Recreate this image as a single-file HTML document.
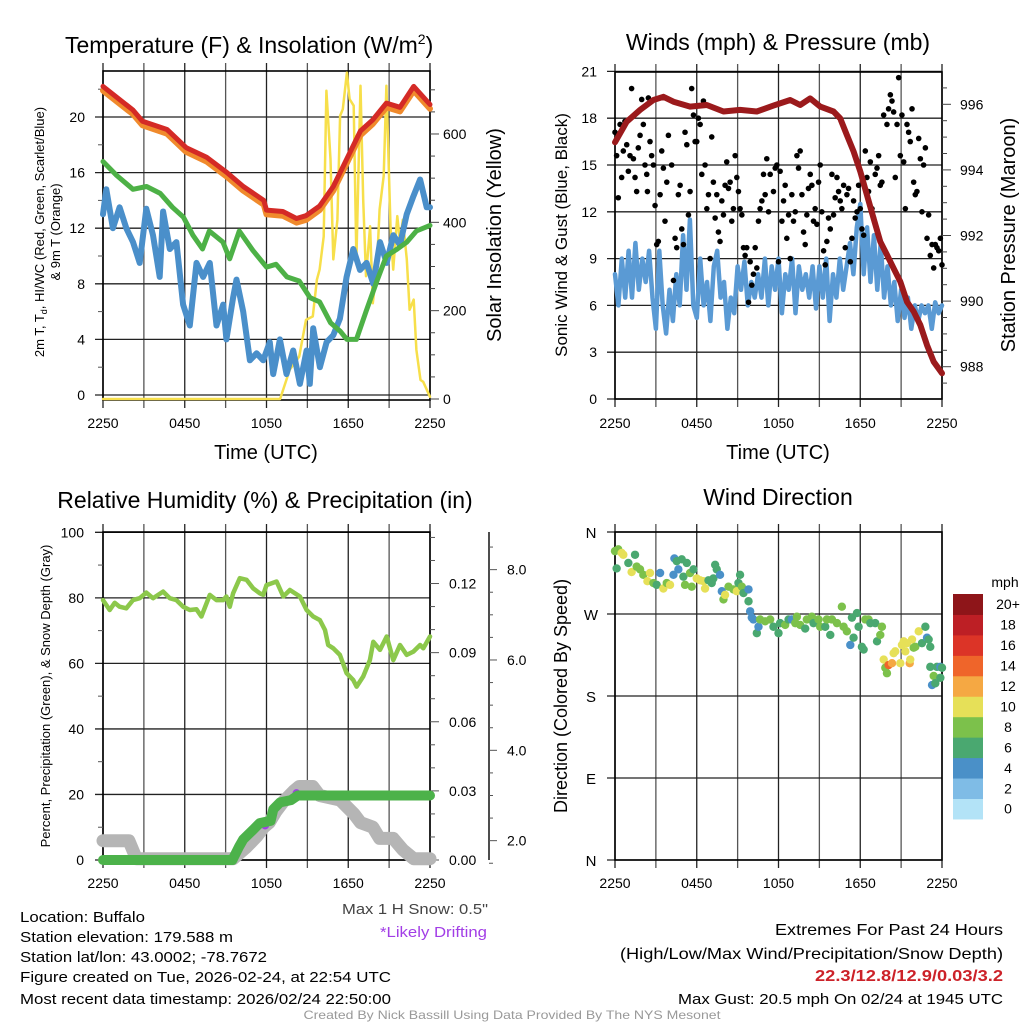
<!DOCTYPE html>
<html><head><meta charset="utf-8">
<style>
html,body{margin:0;padding:0;background:#fff;}
svg{display:block;font-family:"Liberation Sans",Arial,sans-serif;}
</style></head>
<body>
<svg id="fig" width="1024" height="1024" viewBox="0 0 1024 1024" xmlns="http://www.w3.org/2000/svg"></svg>
<script>
// ---------- DATA ----------
const timeLabels = ["2250","0450","1050","1650","2250"];
// Temperature panel
const tempTicks = [0,4,8,12,16,20];
const insolTicks = [0,200,400,600];
const redT = [0,2.2,2.9,4.7,6.1,7.6,9.1,10.3,11.8,12,13.2,14.2,14.9,15.9,16.9,17.9,18.9,19.8,20.8,21.8,22.8,24];
const redV = [22.2,20.5,19.7,19.1,17.8,17.1,16.0,15.0,14.0,13.3,13.2,12.7,12.9,13.6,15.0,17.0,19.0,19.8,21.0,20.7,22.2,20.9];
const greenT = [0,1.0,2.2,3.2,4.2,5.1,5.9,6.6,7.3,7.8,8.8,9.3,10.0,11.0,12.0,12.7,13.5,14.4,15.2,15.9,16.7,17.4,17.9,18.6,19.3,20.1,20.8,21.6,22.3,23.0,24];
const greenV = [16.8,15.8,14.8,15.0,14.5,13.5,12.8,11.5,10.5,11.8,11.0,9.8,11.8,10.4,9.2,9.4,8.5,8.2,7.0,6.7,5.2,4.6,4.0,4.0,6.0,8.2,10.0,10.5,11.0,11.8,12.2];
const blueT = [0,0.24,0.73,1.22,1.71,2.2,2.69,3.18,3.67,4.16,4.41,4.9,5.39,5.88,6.37,6.86,7.35,7.84,8.33,8.82,9.06,9.55,9.8,10.29,10.78,11.27,11.76,12.24,12.49,12.98,13.47,13.96,14.45,14.94,15.18,15.43,15.92,16.41,16.9,17.39,17.88,18.37,18.86,19.35,19.84,20.33,20.82,21.31,21.8,22.29,22.78,23.27,23.76,24];
const blueV = [13,14.8,12.0,13.5,12.0,11.0,9.5,13.4,11.5,8.5,13.2,10.5,11.0,6.5,5.0,9.5,8.5,9.5,5.0,6.5,4.0,7.0,8.3,6.0,2.5,3.0,2.5,3.8,1.5,4.0,1.5,3.2,0.8,3.2,0.8,4.8,2.0,3.8,4.3,5.5,8.5,10.5,9.0,9.5,8.0,11.0,9.5,11.5,10.8,13.0,14.3,15.5,13.5,13.5];
const solarT = [0,13.0,13.7,14.4,14.9,15.4,15.7,15.9,16.2,16.4,16.7,16.9,17.2,17.4,17.6,17.9,18.1,18.4,18.6,18.9,19.1,19.3,19.6,19.8,20.1,20.3,20.6,20.8,21.1,21.3,21.6,21.8,22.0,22.3,22.5,22.8,23.0,23.3,23.5,24];
const solarV = [0,0,66,96,179,187,270,293,368,698,543,316,406,641,656,739,679,664,316,709,451,278,391,217,300,429,505,709,391,293,414,354,406,316,202,225,111,43,39,5];
// Winds panel
const windTicks = [0,3,6,9,12,15,18,21];
const presTicks = [988,990,992,994,996];
const sustained = [8,6,9,6.5,9.5,6.5,10,7,9,7.5,9.5,6.5,4.5,9.5,6,4.2,7,5,8,6,10.5,7,11.5,6,5.2,9,6,7.5,5,8.5,9.5,6.5,7.5,4.5,6.5,5.5,8.5,7,8.8,6,7.5,6.5,8,6.5,9,6,8.5,7,9,5.5,8,7,9,5.5,8.5,7,8,6.5,8.5,5.8,8.5,6.5,9,5,8,6.5,9,7,8.5,10,8,11,12.5,8,11,7.5,10.5,7,10,6.5,8.5,6,7.5,5,7,5.2,6.5,4.5,6,5,6,5.5,6,4.5,6.2,5.5,6];
const sustainedStep = 0.25;
const gustT = [0,0.12,0.24,0.37,0.49,0.61,0.73,0.86,0.98,1.1,1.22,1.35,1.47,1.59,1.71,1.84,1.96,2.08,2.2,2.33,2.38,2.45,2.57,2.69,2.82,2.94,3.06,3.18,3.31,3.43,3.55,3.67,3.8,3.92,4.16,4.29,4.41,4.53,4.65,4.78,4.9,5.02,5.14,5.27,5.39,5.51,5.63,5.76,5.88,6.0,6.12,6.25,6.37,6.49,6.61,6.74,6.86,6.98,7.1,7.22,7.35,7.47,7.59,7.71,7.84,7.96,8.08,8.2,8.33,8.45,8.57,8.69,8.82,8.94,9.06,9.18,9.31,9.43,9.55,9.67,9.8,9.92,10.04,10.16,10.29,10.41,10.53,10.65,10.78,10.9,11.02,11.14,11.27,11.39,11.63,11.76,11.88,12.0,12.12,12.25,12.37,12.49,12.61,12.74,12.86,12.98,13.1,13.23,13.35,13.47,13.59,13.72,13.84,13.96,14.08,14.2,14.33,14.45,14.57,14.69,14.82,14.94,15.06,15.18,15.31,15.43,15.55,15.67,15.8,15.92,16.04,16.16,16.29,16.41,16.53,16.65,16.78,16.9,17.02,17.14,17.27,17.39,17.51,17.63,17.76,17.88,18.0,18.12,18.25,18.37,18.49,18.61,18.74,18.86,18.98,19.1,19.23,19.35,19.47,19.59,19.72,19.96,20.08,20.21,20.33,20.45,20.57,20.7,20.82,20.94,21.06,21.19,21.31,21.43,21.55,21.67,21.8,21.92,22.04,22.16,22.29,22.41,22.53,22.65,22.78,22.9,23.02,23.14,23.27,23.39,23.51,23.63,23.76,23.88,24];
const gustV = [17.1,15.6,12.9,17.6,14.2,15.9,17.8,16.3,14.6,15.6,19.9,15.4,14.2,13.3,16.1,16.9,19.2,17.6,15.0,14.4,13.3,19.3,16.5,15.6,15.0,12.4,9.9,10.1,13.1,15.9,14.8,11.4,13.9,16.9,15.0,7.6,10.3,9.7,13.1,13.7,10.9,9.9,17.1,16.3,11.8,13.3,19.9,18.2,16.5,16.5,18.0,17.6,14.4,19.1,15.0,12.2,13.1,9.0,16.8,13.9,11.6,13.1,10.7,10.1,12.7,11.8,13.7,15.2,13.5,13.9,11.4,12.2,15.6,14.2,13.3,12.2,11.8,9.7,9.2,9.7,6.2,8.8,7.3,8.0,9.7,8.4,11.4,12.2,12.7,14.4,13.1,15.4,12.0,14.4,13.3,14.8,15.0,8.8,14.6,11.4,12.7,13.7,10.3,11.8,9.0,13.1,11.4,12.0,15.6,14.8,15.9,13.1,10.7,9.9,11.8,13.5,14.4,13.7,11.4,12.2,11.2,13.9,15.0,12.0,9.5,8.6,10.1,11.6,10.9,14.4,11.8,12.9,14.2,13.3,12.7,12.2,13.7,9.7,13.1,13.5,8.8,10.3,12.7,11.6,12.0,13.7,12.2,10.9,10.5,15.9,14.2,13.3,15.2,12.2,11.6,14.4,14.8,15.6,13.7,13.9,18.2,17.6,18.6,19.5,19.1,18.4,14.2,17.6,20.6,15.6,18.2,15.2,12.2,17.6,17.1,16.5,18.6,13.9,13.1,13.3,16.7,15.4,12.0,15.0,16.1,10.3,11.8,9.2,9.9,8.4,9.9,9.7,9.5,10.3,8.6];
const presT = [0,0.86,1.84,2.82,3.55,4.29,5.51,6.74,7.96,9.18,10.41,11.63,12.86,13.59,14.33,15.06,16.04,16.53,17.02,17.51,18.0,18.49,18.98,19.47,19.96,20.45,20.94,21.43,21.92,22.41,22.9,23.39,24];
const presV = [994.84,995.47,995.83,996.13,996.23,996.08,995.93,995.98,995.78,995.83,995.78,995.96,996.13,995.98,996.18,995.93,995.78,995.57,995.06,994.56,993.95,993.24,992.52,991.81,991.41,991.0,990.59,989.98,989.68,989.27,988.66,988.15,987.8];
// RH panel
const rhTicks = [0,20,40,60,80,100];
const precipTicks = ["0.00","0.03","0.06","0.09","0.12"];
const snowTicks = ["2.0","4.0","6.0","8.0"];
const rhT = [0,0.49,0.86,1.22,1.71,2.2,2.69,3.18,3.67,4.41,4.9,5.39,5.88,6.37,6.86,7.22,7.84,8.33,8.82,9.06,9.31,9.55,10.04,10.53,11.02,11.51,11.76,12.0,12.74,13.23,13.72,14.45,14.94,15.43,15.92,16.29,16.53,16.9,17.39,17.88,18.37,18.61,19.1,19.59,19.84,20.33,20.82,21.31,21.8,22.29,22.78,23.27,23.51,24];
const rhV = [79.3,76.3,78.5,77.3,76.8,79.3,79.9,81.6,79.9,81.9,79.9,79.3,77.3,76.3,76.5,74.3,80.9,79.3,79.3,80.4,77.3,81.4,86.0,85.5,82.9,81.4,80.9,83.9,85.0,80.4,82.4,80.4,76.3,74.3,73.2,70.2,65.6,64.6,62.6,57.0,54.9,52.9,56.0,61.0,66.6,64.1,68.2,61.0,65.6,62.6,63.6,65.6,64.6,68.2];
const precipT = [0,9.5,10.0,10.3,11.0,11.5,12.3,12.5,13.0,13.8,14.3,24];
const precipV = [0,0,0.006,0.009,0.013,0.016,0.017,0.022,0.025,0.026,0.028,0.028];
const snowT = [0,1.9,2.45,9.55,10.5,11.3,11.8,12.2,12.7,13.2,14.0,14.4,15.4,15.9,17.4,18.4,18.9,19.8,20.3,21.3,22.0,22.8,24];
const snowV = [2.0,2.0,1.6,1.6,1.85,2.1,2.3,2.4,2.65,2.85,3.1,3.2,3.2,3.0,2.9,2.6,2.4,2.3,2.05,2.05,1.8,1.6,1.6];
const driftT = [11.9,14.2];
const driftV = [0.015,0.029];
// Wind direction panel
const dirTicks = ["N","E","S","W","N"];
const dirT = [0,0.24,0.49,0.12,0.61,0.98,1.47,1.22,1.59,1.84,2.08,2.38,2.57,2.82,3.06,3.31,3.55,3.8,4.04,4.29,4.36,4.53,4.65,4.9,5.02,5.14,5.27,5.51,5.63,5.76,6.0,6.25,6.49,6.61,6.86,7.1,7.22,7.35,7.47,7.71,7.84,7.96,8.08,8.33,8.69,8.94,9.06,9.18,9.31,9.43,9.8,9.8,9.92,10.04,10.16,10.41,10.53,10.65,11.02,11.39,11.63,12.0,12.12,12.49,12.74,12.98,13.23,13.35,13.59,13.96,14.08,14.45,14.57,14.94,15.06,15.43,15.55,15.8,15.92,16.29,16.65,16.78,17.02,17.27,17.39,17.51,17.76,17.88,18.12,18.25,18.37,18.61,18.74,19.1,19.23,19.47,19.59,19.72,19.84,19.96,20.08,20.33,20.45,20.57,20.94,21.06,21.19,21.31,21.43,21.63,21.67,21.8,21.92,22.04,22.29,22.53,22.78,22.9,23.02,23.14,23.14,23.27,23.39,23.51,23.63,23.88,23.88,24];
const dirV = [339,341,337,320,335,326,335,316,322,319,313,306,315,304,302,315,298,304,302,313,331,328,319,330,311,302,326,315,300,319,309,307,306,298,307,304,309,324,319,313,295,286,291,300,297,295,304,313,300,293,297,284,273,266,264,249,256,264,262,264,256,249,260,258,264,264,260,267,258,254,264,267,260,264,256,256,264,247,264,260,278,256,251,236,266,244,271,256,234,231,264,264,260,260,240,247,256,220,211,205,214,216,227,229,216,236,240,229,238,216,220,242,233,234,251,238,256,244,242,234,212,192,202,194,212,212,200,211];
const dirS = [8,8,10,6,10,6,6,10,8,8,8,10,10,8,6,4,10,8,10,4,4,6,4,6,6,8,6,8,8,6,10,10,10,10,6,6,6,6,6,4,4,8,10,8,8,10,6,6,8,6,4,6,4,4,4,6,4,8,8,8,6,6,6,8,6,4,8,8,8,6,8,8,6,8,8,6,8,6,8,8,8,8,8,4,6,6,6,6,6,6,8,8,6,6,6,8,8,10,8,8,14,12,10,10,10,10,10,10,10,12,10,10,8,8,10,6,6,4,6,6,6,4,8,6,6,4,6];
const speedBins = ["0","2","4","6","8","10","12","14","16","18","20+"];
const speedColors = ["#b3e3f7","#7fbce6","#4a90c8","#4aa870","#7cc14b","#e6e058","#f5a843","#ef652a","#dc3427","#bd1f25","#8e1519"];

// ---------- DRAW ----------
const NS = "http://www.w3.org/2000/svg";
const svg = document.getElementById("fig");
function mk(tag, attrs, parent){
  const e = document.createElementNS(NS, tag);
  for (const k in attrs) e.setAttribute(k, attrs[k]);
  (parent||svg).appendChild(e);
  return e;
}
function txt(s, x, y, size, anchor, parent, extra){
  const e = mk("text", Object.assign({x:x, y:y, "font-size":size, "text-anchor":anchor||"start", fill:"#000"}, extra||{}), parent);
  e.textContent = s;
  return e;
}
function polyline(ts, vs, sx, sy, color, w, parent){
  let d = "";
  for (let i=0;i<ts.length;i++) d += (i?"L":"M") + sx(ts[i]).toFixed(1) + "," + sy(vs[i]).toFixed(1);
  return mk("path", {d:d, fill:"none", stroke:color, "stroke-width":w, "stroke-linejoin":"round", "stroke-linecap":"round"}, parent);
}
function grid(g, x0, x1, top, bot, hys){
  for (let i=0;i<=8;i++){
    const x = x0 + i*(x1-x0)/8;
    mk("line",{x1:x,y1:top-8,x2:x,y2:bot+8,stroke:(i%2? "#555":"#222"),"stroke-width":1.3},g);
  }
  hys.forEach(y=>mk("line",{x1:x0-8,y1:y,x2:x1,y2:y,stroke:"#222","stroke-width":1.3},g));
  mk("rect",{x:x0,y:top,width:x1-x0,height:bot-top,fill:"none",stroke:"#000","stroke-width":1.6},g);
}
function timeAxis(g, x0, x1, ylab){
  timeLabels.forEach((s,i)=>{
    const t = txt(s, x0 + i*(x1-x0)/4, ylab, 14, "middle", g);
    
    
  });
}

// ===== Panel 1: Temperature =====
(function(){
  const g = mk("g",{});
  
  
  const x0=103, x1=430, top=71, bot=400;
  const sx = t => x0 + t/24*(x1-x0);
  const yT = v => 395 - v*13.9;
  const yI = v => 399 - v*0.4417;
  grid(g, x0, x1, top, bot, tempTicks.map(yT));
  for (let v=2; v<=22; v+=4) mk("line",{x1:x0-5,y1:yT(v),x2:x0,y2:yT(v),stroke:"#555"},g);
  tempTicks.forEach(v=>{
    const t = txt(String(v), 85, yT(v)+5, 14, "end", g);
    
    
  });
  for (let v=0; v<=700; v+=50) mk("line",{x1:x1,y1:yI(v),x2:x1+(v%200==0?9:5),y2:yI(v),stroke:"#444"},g);
  insolTicks.forEach(v=>{
    const t = txt(String(v), 443, yI(v)+5, 14, "start", g);
    
    
  });
  const so = polyline(solarT, solarV, sx, yI, "#f7df4a", 2.5, g);
  
  
  const bl = polyline(blueT, blueV, sx, yT, "#4a8fca", 6, g);
  
  
  const gr = polyline(greenT, greenV, sx, yT, "#4db146", 5, g);
  
  
  const or = polyline(redT, redV.map(v=>v-0.3), sx, yT, "#f08a2c", 6, g);
  
  
  const rd = polyline(redT, redV, sx, yT, "#d42a26", 5, g);
  
  
  timeAxis(g, x0, x1, 428);
  const ti = txt("Temperature (F) & Insolation (W/m", 65, 53, 23, "start", g);
  
  
  const ts = mk("tspan",{dy:-9,"font-size":14},ti); ts.textContent="2";
  const ts2 = mk("tspan",{dy:9},ti); ts2.textContent=")";
  const xl = txt("Time (UTC)", 266, 459, 20, "middle", g);
  
  
  const yl = txt("2m T, T", 0, 0, 13, "middle", g, {transform:"translate(44,232) rotate(-90)"});
  
  
  const sub = mk("tspan",{dy:3,"font-size":9},yl); sub.textContent="d";
  const rest = mk("tspan",{dy:-3},yl); rest.textContent=", HI/WC (Red, Green, Scarlet/Blue)";
  const yl2 = txt("& 9m T (Orange)", 0, 0, 13, "middle", g, {transform:"translate(60,232) rotate(-90)"});
  
  
  const yr = txt("Solar Insolation (Yellow)", 0, 0, 20, "middle", g, {transform:"translate(501,235) rotate(-90)"});
  
  
})();

// ===== Panel 2: Winds =====
(function(){
  const g = mk("g",{});
  
  
  const x0=615, x1=942, top=72, bot=399;
  const sx = t => x0 + t/24*(x1-x0);
  const yW = v => 399 - v*15.6;
  const yP = p => 104.3 + (996-p)*32.8;
  grid(g, x0, x1, top, bot, windTicks.map(yW));
  windTicks.forEach(v=>{
    const t = txt(String(v), 597, yW(v)+5, 14, "end", g);
    
    
  });
  for (let p=987.5; p<=996.8; p+=0.5) mk("line",{x1:x1,y1:yP(p),x2:x1+(Math.abs(p%2)<0.01?9:5),y2:yP(p),stroke:"#444"},g);
  presTicks.forEach(p=>{
    const t = txt(String(p), 960, yP(p)+5, 14, "start", g);
    
    
  });
  const ws = sustained.map((v,i)=>i*sustainedStep);
  const wl = polyline(ws, sustained, sx, yW, "#5a9ad4", 4.5, g);
  
  
  const nG = Math.min(gustT.length, gustV.length);
  for (let i=0;i<nG;i++){
    const c = mk("circle",{cx:sx(gustT[i]),cy:yW(gustV[i]),r:2.8,fill:"#000"},g);
    
    
  }
  const pl = polyline(presT, presV, sx, yP, "#9b1a1c", 6, g);
  
  
  timeAxis(g, x0, x1, 428);
  const ti = txt("Winds (mph) & Pressure (mb)", 778, 50, 23, "middle", g);
  
  
  const xl = txt("Time (UTC)", 778, 459, 20, "middle", g);
  
  
  const yl = txt("Sonic Wind & Gust (Blue, Black)", 0, 0, 17, "middle", g, {transform:"translate(567,235) rotate(-90)"});
  
  
  const yr = txt("Station Pressure (Maroon)", 0, 0, 20, "middle", g, {transform:"translate(1015,235) rotate(-90)"});
  
  
})();

// ===== Panel 3: RH / Precip =====
(function(){
  const g = mk("g",{});
  
  
  const x0=103, x1=430, top=532, bot=860;
  const sx = t => x0 + t/24*(x1-x0);
  const yR = v => 860 - v*3.277;
  const yPr = p => 860 - p*2304;
  const yS = s => 931 - s*45.17;
  grid(g, x0, x1, top, bot, rhTicks.map(yR));
  for (let v=10; v<100; v+=20) mk("line",{x1:x0-5,y1:yR(v),x2:x0,y2:yR(v),stroke:"#555"},g);
  rhTicks.forEach(v=>{
    const t = txt(String(v), 84, yR(v)+5, 14, "end", g);
    
    
  });
  for (let p=0; p<=0.142; p+=0.01) mk("line",{x1:x1,y1:yPr(p),x2:x1+(Math.round(p*100)%3==0?9:5),y2:yPr(p),stroke:"#555"},g);
  precipTicks.forEach(s=>{
    const t = txt(s, 449, yPr(parseFloat(s))+5, 14, "start", g);
    
    
  });
  const sa = mk("line",{x1:489,y1:top,x2:489,y2:bot,stroke:"#222","stroke-width":1.6},g);
  
  
  for (let s=1.5; s<=8.8; s+=0.5) mk("line",{x1:489,y1:yS(s),x2:489+(Math.abs(s%2)<0.01?8:4),y2:yS(s),stroke:"#555"},g);
  snowTicks.forEach(s=>{
    const t = txt(s, 507, yS(parseFloat(s))+5, 14, "start", g);
    
    
  });
  const sn = polyline(snowT, snowV, sx, yS, "#b5b5b5", 13, g);
  
  
  driftT.forEach((t,i)=>{
    const c = mk("circle",{cx:sx(t),cy:yPr(driftV[i]),r:4,fill:"#a23ee6"},g);
    
    
  });
  const pr = polyline(precipT, precipV, sx, yPr, "#4cb24a", 10, g);
  
  
  const rh = polyline(rhT, rhV, sx, yR, "#8cc84b", 4.5, g);
  
  
  timeAxis(g, x0, x1, 888);
  const ti = txt("Relative Humidity (%) & Precipitation (in)", 265, 508, 23, "middle", g);
  
  
  const yl = txt("Percent, Precipitation (Green), & Snow Depth (Gray)", 0, 0, 13, "middle", g, {transform:"translate(50,696) rotate(-90)"});
  
  
})();

// ===== Panel 4: Wind Direction =====
(function(){
  const g = mk("g",{});
  
  
  const x0=615, x1=942, top=532, bot=860;
  const sx = t => x0 + t/24*(x1-x0);
  const yD = d => 860 - d*0.9111;
  grid(g, x0, x1, top, bot, [0,90,180,270,360].map(yD));
  dirTicks.forEach((s,i)=>{
    const t = txt(s, 591, yD(i*90)+6, 15, "middle", g);
    
    
  });
  const nD = Math.min(dirT.length, dirV.length);
  for (let i=0;i<nD;i++){
    const spd = (dirS[i]===undefined) ? 6 : dirS[i];
    const bin = Math.min(10, Math.floor(spd/2));
    const c = mk("circle",{cx:sx(dirT[i]),cy:yD(dirV[i]),r:4.2,fill:speedColors[bin]},g);
    
    
  }
  timeAxis(g, x0, x1, 888);
  const ti = txt("Wind Direction", 778, 505, 23, "middle", g);
  
  
  const yl = txt("Direction (Colored By Speed)", 0, 0, 18, "middle", g, {transform:"translate(567,696) rotate(-90)"});
  
  
  const cb = mk("g",{},g);
  
  
  const cbTop=594, h=20.45;
  speedBins.forEach((s,i)=>{
    const y = cbTop + (10-i)*h;
    const r = mk("rect",{x:953,y:y,width:30,height:h+0.5,fill:speedColors[i]},cb);
    
    
    const t = txt(s, 1008, y+h/2+5, 14, "middle", cb);
    
    
  });
  const u = txt("mph", 1005, 587, 14, "middle", cb);
  
  
})();

// ===== Footer text =====
(function(){
  const g = mk("g",{});
  
  
  const lines = [["Location: Buffalo",922,125],["Station elevation: 179.588 m",942,213],["Station lat/lon: 43.0002; -78.7672",962,247],["Figure created on Tue, 2026-02-24, at 22:54 UTC",982,371],["Most recent data timestamp: 2026/02/24 22:50:00",1004,371]];
  lines.forEach(l=>{
    const t = txt(l[0], 20, l[1], 15, "start", g, {textLength:l[2], lengthAdjust:"spacingAndGlyphs"});
    
    
  });
  const s1 = txt('Max 1 H Snow: 0.5"', 488, 914, 15, "end", g, {fill:"#444", textLength:146, lengthAdjust:"spacingAndGlyphs"});
  
  
  const s2 = txt("*Likely Drifting", 487, 937, 15, "end", g, {fill:"#a23ee6", textLength:107, lengthAdjust:"spacingAndGlyphs"});
  
  
  const r1 = txt("Extremes For Past 24 Hours", 1003, 935, 16, "end", g, {textLength:228, lengthAdjust:"spacingAndGlyphs"});
  
  
  const r2 = txt("(High/Low/Max Wind/Precipitation/Snow Depth)", 1003, 959, 16, "end", g, {textLength:383, lengthAdjust:"spacingAndGlyphs"});
  
  
  const r3 = txt("22.3/12.8/12.9/0.03/3.2", 1003, 981, 16, "end", g, {fill:"#cc2229","font-weight":"bold", textLength:188, lengthAdjust:"spacingAndGlyphs"});
  
  
  const r4 = txt("Max Gust: 20.5 mph On 02/24 at 1945 UTC", 1003, 1004, 15, "end", g, {textLength:325, lengthAdjust:"spacingAndGlyphs"});
  
  
  const f = txt("Created By Nick Bassill Using Data Provided By The NYS Mesonet", 512, 1019, 12, "middle", g, {fill:"#999", textLength:417, lengthAdjust:"spacingAndGlyphs"});
  
  
})();
</script>
</body></html>
